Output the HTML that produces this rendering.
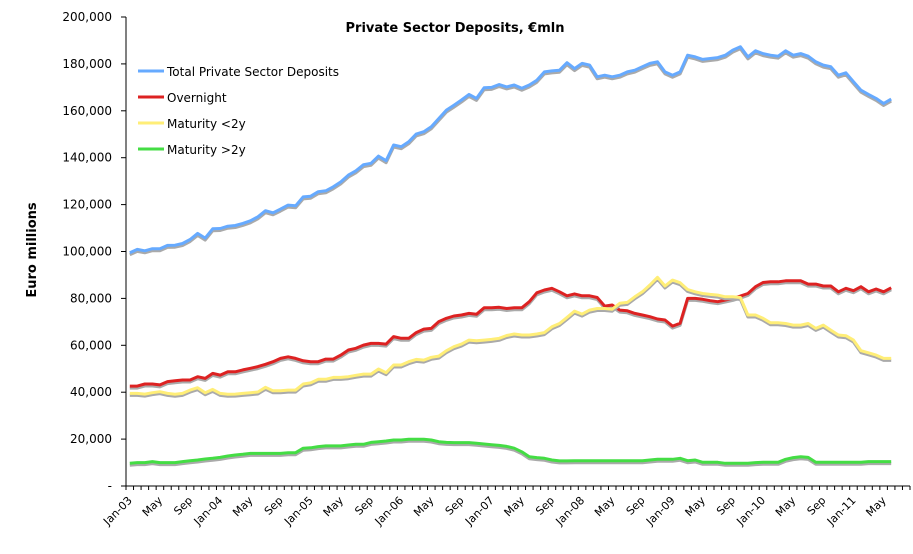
<!DOCTYPE html>
<html><head><meta charset="utf-8"><style>
body{margin:0;background:#fff}
svg{display:block;font-family:"DejaVu Sans","Liberation Sans",sans-serif}
</style></head><body>
<svg id="chart" width="913" height="554" viewBox="0 0 913 554">
<text x="455" y="32" text-anchor="middle" font-size="13" font-weight="bold">Private Sector Deposits, €mln</text>
<text transform="translate(36,250) rotate(-90)" text-anchor="middle" font-size="13" font-weight="bold">Euro millions</text>
<g id="axes"></g><g id="series"></g>
<g id="legend"></g>
</svg>
<script>
const months=["Jan","Feb","Mar","Apr","May","Jun","Jul","Aug","Sep","Oct","Nov","Dec"];
const yTicks=[0,20000,40000,60000,80000,100000,120000,140000,160000,180000,200000];
const totalDeposits=[99.5,100.9,100.3,101.2,101.2,102.6,102.7,103.4,105.1,107.7,105.7,109.7,109.8,110.8,111.1,112.0,113.1,114.8,117.4,116.5,118.1,119.8,119.5,123.3,123.6,125.5,125.9,127.6,129.7,132.6,134.4,137.0,137.6,140.7,138.7,145.4,144.7,146.8,150.1,151.1,153.2,156.7,160.3,162.4,164.6,167.0,165.3,169.8,170.0,171.2,170.2,171.0,169.6,171.0,173.0,176.6,177.0,177.3,180.5,178.0,180.2,179.5,174.5,175.2,174.5,175.2,176.6,177.3,178.8,180.2,180.9,176.6,175.2,176.6,183.7,183.0,181.9,182.3,182.7,183.7,185.9,187.3,183.0,185.6,184.4,183.7,183.3,185.6,183.7,184.4,183.3,180.9,179.5,178.8,175.2,176.2,172.4,168.8,167.0,165.3,163.1,165.0];
const overnight=[42.6,42.6,43.5,43.5,43.1,44.5,44.9,45.2,45.2,46.6,45.9,48.0,47.3,48.7,48.7,49.5,50.2,50.9,51.9,53.0,54.4,55.1,54.4,53.4,53.0,53.0,54.1,54.1,55.8,58.0,58.7,60.1,60.8,60.8,60.5,63.7,63.0,63.0,65.4,66.9,67.2,70.1,71.5,72.5,72.9,73.6,73.2,76.0,76.0,76.2,75.7,76.0,76.0,78.6,82.4,83.6,84.3,82.8,81.1,81.9,81.1,81.1,80.4,76.7,77.2,75.0,74.7,73.6,72.9,72.2,71.2,70.8,68.2,69.4,80.0,80.0,79.6,79.0,78.6,79.3,80.0,81.0,82.1,85.0,86.8,87.1,87.1,87.5,87.5,87.5,86.1,86.1,85.3,85.3,82.8,84.3,83.3,85.0,82.8,84.0,82.8,84.5];
const maturityUnder2y=[39.5,39.5,39.2,39.8,40.2,39.5,39.1,39.5,40.9,41.9,39.8,41.2,39.5,39.1,39.2,39.5,39.8,40.1,42.1,40.6,40.6,40.9,40.9,43.5,44.0,45.5,45.5,46.3,46.3,46.6,47.2,47.7,47.7,49.9,48.3,51.6,51.6,53.0,54.0,53.7,54.9,55.4,57.7,59.4,60.5,62.2,61.9,62.2,62.5,63.0,64.2,64.8,64.4,64.4,64.8,65.4,67.9,69.3,71.9,74.6,73.3,75.0,75.7,75.7,75.4,77.9,78.3,80.7,82.8,85.7,89.0,85.3,87.8,86.7,83.8,82.8,82.1,81.7,81.4,80.7,80.7,80.4,72.9,72.9,71.5,69.6,69.6,69.3,68.6,68.6,69.3,67.2,68.6,66.5,64.4,64.1,62.2,57.7,56.8,55.8,54.4,54.4];
const maturityOver2y=[9.7,10.0,10.0,10.4,10.0,10.0,10.0,10.4,10.8,11.1,11.5,11.8,12.2,12.8,13.2,13.5,13.9,13.9,13.9,13.9,13.9,14.2,14.2,16.1,16.3,16.8,17.1,17.1,17.1,17.5,17.8,17.8,18.6,18.9,19.2,19.6,19.6,19.9,19.9,19.9,19.6,18.9,18.6,18.5,18.5,18.5,18.2,17.9,17.6,17.3,16.9,16.1,14.6,12.5,12.1,11.8,11.1,10.7,10.7,10.8,10.8,10.8,10.8,10.8,10.8,10.8,10.8,10.8,10.8,11.1,11.4,11.4,11.4,11.8,10.8,11.1,10.1,10.1,10.1,9.7,9.7,9.7,9.7,10.0,10.1,10.1,10.1,11.4,12.1,12.5,12.2,10.1,10.1,10.1,10.1,10.1,10.1,10.1,10.4,10.4,10.4,10.4];
const seriesNames=["Total Private Sector Deposits","Overnight","Maturity <2y","Maturity >2y"];
const seriesColors=["#66aaff","#dd2222","#ffee77","#44dd44"];
const NS="http://www.w3.org/2000/svg";
const X0=126,X1=910,NCAT=104,Y0=486,Y1=17,YMAX=200000;
const xs=i=>X0+(i+0.5)*(X1-X0)/NCAT;
const ys=v=>Y0-(v/YMAX)*(Y0-Y1);
function mk(t,a,p){const e=document.createElementNS(NS,t);for(const k in a)e.setAttribute(k,a[k]);p.appendChild(e);return e;}
const ax=document.getElementById('axes');
const yl=mk('line',{x1:X0,y1:Y1,x2:X0,y2:Y0,stroke:'#000'},ax);


const xl=mk('line',{x1:X0-5,y1:Y0,x2:X1,y2:Y0,stroke:'#000'},ax);


yTicks.forEach(v=>{const y=ys(v);mk('line',{x1:X0-5,y1:y,x2:X0,y2:y,stroke:'#000'},ax);
const t=mk('text',{x:112,y:y+4,'text-anchor':'end','font-size':12},ax);


t.textContent=v===0?'-':v.toLocaleString('en-US');});
for(let i=0;i<=NCAT;i++){const x=X0+i*(X1-X0)/NCAT;mk('line',{x1:x,y1:Y0,x2:x,y2:Y0+4,stroke:'#000'},ax);}
for(let i=0;i<NCAT;i+=4){const m=i%12,yr=3+Math.floor(i/12);
const lab=m===0?'Jan-'+String(yr).padStart(2,'0'):months[m];
const x=xs(i)+3,y=Y0+15;
const t=mk('text',{x:x,y:y,'text-anchor':'end','font-size':11,transform:`rotate(-45 ${x} ${y})`},ax);


t.textContent=lab;}
const sg=document.getElementById('series');
const all=[totalDeposits,overnight,maturityUnder2y,maturityOver2y];
all.forEach((d,k)=>{const pts=d.map((v,i)=>xs(i).toFixed(1)+','+ys(v*1000).toFixed(1)).join(' ');
mk('polyline',{points:pts,fill:'none',stroke:'#aaa','stroke-width':3,transform:'translate(0,2)','stroke-linejoin':'round'},sg);
const p=mk('polyline',{points:pts,fill:'none',stroke:seriesColors[k],'stroke-width':3,'stroke-linejoin':'round'},sg);

});
const lg=document.getElementById('legend');
seriesNames.forEach((n,k)=>{const y=71+k*26;
mk('line',{x1:138,y1:y,x2:164,y2:y,stroke:seriesColors[k],'stroke-width':3},lg);
const t=mk('text',{x:167,y:y+5,'font-size':12},lg);


t.textContent=n;});
</script>
</body></html>
